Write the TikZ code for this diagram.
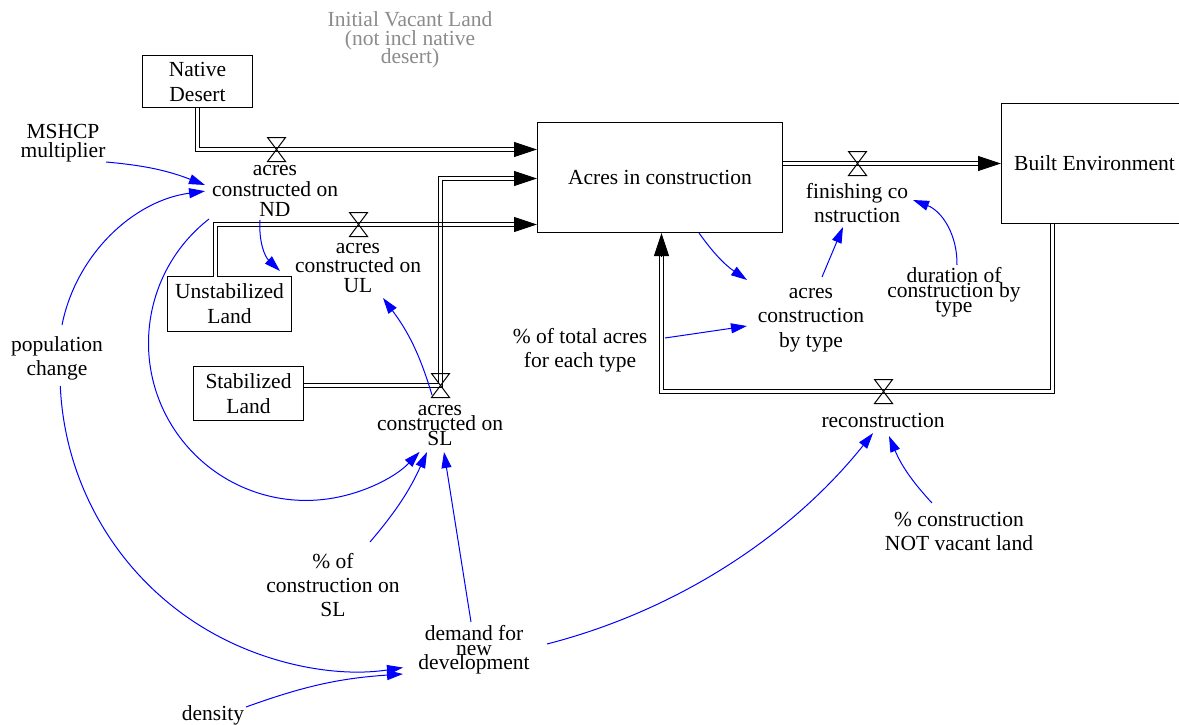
\documentclass[tikz,border=0pt]{standalone}
\usepackage{fontspec}
\setmainfont{Liberation Serif}
\usetikzlibrary{arrows.meta,calc}
\setlength{\lineskiplimit}{-100pt}
\definecolor{ghost}{RGB}{140,140,140}
\definecolor{linkblue}{RGB}{0,0,255}

\tikzset{
  stock/.style={draw, line width=1pt, align=center, inner sep=0pt,
    font=\fontsize{21.5}{25}\selectfont},
  lbl/.style={align=center, inner sep=1pt, font=\fontsize{21.5}{#1}\selectfont},
  lbl/.default=24,
  % a pipe: wide black stroke with a narrower white core on top
  pipe/.style={draw=white, line width=3pt,
    preaction={draw=black, line width=5pt}},
  pipeedge/.style={line width=1pt},
  pipetip/.style={line width=1pt, -{Triangle[length=23pt,width=15pt]}},
  link/.style={draw=linkblue, line width=1pt, -{Triangle[length=16pt,width=10pt]}},
  valve/.pic={\draw[line width=1pt] (-9,12) -- (9,12) -- (-9,-12) -- (9,-12) -- cycle;},
}

\begin{document}
\begin{tikzpicture}[x=1pt,y=1pt]
\fill[white] (0,0) rectangle (1179,-725);
\useasboundingbox (0,0) rectangle (1179,-725);

% stocks
\node[stock, minimum width=110, minimum height=52] (nd) at (197.5,-81.5) {Native\\Desert};
\node[stock, minimum width=245, minimum height=110] (acres) at (660,-177.5) {Acres in construction};
\node[stock, minimum width=186, minimum height=120] (built) at (1094.5,-163.5) {Built Environment};
\node[stock, minimum width=124, minimum height=55] (ul) at (229.5,-304) {Unstabilized\\Land};
\node[stock, minimum width=110, minimum height=54] (sl) at (248.5,-393.5) {Stabilized\\Land};

% variables and rates
\node[lbl=18.5, text=ghost] (title) at (410,-40) {Initial Vacant Land\\(not incl native\\desert)};
\node[lbl=19.5] (msh) at (63,-143) {MSHCP\\multiplier};
\node[lbl=20.5] (ndrate) at (275,-191) {acres\\constructed on\\ND};
\node[lbl=19.5] (ulrate) at (358,-268) {acres\\constructed on\\UL};
\node[lbl=15] (slrate) at (440,-426) {acres\\constructed on\\SL};
\node[lbl=24] (pop) at (57,-358) {population\\change};
\node[lbl=24] (pctsl) at (333,-585) {\% of\\construction on\\SL};
\node[lbl=14.5] (demand) at (474,-650) {demand for\\new\\development};
\node[lbl] (density) at (213,-715) {density};
\node[lbl=24] (finish) at (857,-203) {finishing co\\nstruction};
\node[lbl=24.5] (bytype) at (811,-320) {acres\\construction\\by type};
\node[lbl=24] (pcttot) at (580,-350) {\% of total acres\\for each type};
\node[lbl=15] (duration) at (954,-292) {duration of\\construction by\\type};
\node[lbl] (recon) at (883,-420) {reconstruction};
\node[lbl=24] (notvac) at (959,-531) {\% construction\\NOT vacant land};

% valve positions and pipe ends
\coordinate (ndv) at (276.5,-149.5);
\coordinate (ulv) at (358.5,-224.5);
\coordinate (slv) at (440.5,-385.5);
\coordinate (finv) at (857.5,-163.5);
\coordinate (recv) at (883.5,-391.5);
\coordinate (ndend) at (514,-149.5);
\coordinate (ulsrc) at (215.5,-276.5);
\coordinate (ulend) at (514,-224.5);
\coordinate (slsrc) at (sl.east |- slv);
\coordinate (slend) at (514,-178.5);
\coordinate (finend) at (978,-163.5);
\coordinate (recsrc) at (1052.5,-223.5);
\coordinate (recend) at (661.5,-256);
\coordinate (cross) at (slv |- ulend);

% flow pipes
\draw[pipe] (nd.south) |- (ndend);
\draw[pipetip] (ndend) -- (acres.west |- ndend);
\draw[pipe] (slsrc) -| (slv |- slend) -- (slend);
\draw[pipetip] (slend) -- (acres.west |- slend);
\draw[pipe] (ulsrc) |- (ulend);
\draw[pipetip] (ulend) -- (acres.west |- ulend);
% the rising SL pipe stays visible where the UL pipe crosses it
\draw[pipeedge] ($(cross)+(-2,2)$) -- ++(0,-4);
\draw[pipeedge] ($(cross)+(2,2)$) -- ++(0,-4);
\draw[pipe] (acres.east |- finend) -- (finend);
\draw[pipetip] (finend) -- (built.west |- finend);
\draw[pipe] (recsrc) |- (recv) -| (recend);
\draw[pipetip] (recend) -- (acres.south -| recend);

% valves
\foreach \v in {ndv,ulv,slv,finv,recv} \pic at (\v) {valve};

% information links
\draw[link] ($(msh)+(43,-19)$) to[bend left=8] ($(ndrate)+(-70,6)$);
\draw[link] ($(pop)+(5,33)$) arc[start angle=168.7, end angle=97.5, radius=168.3];
\draw[link] ($(ndrate)+(-15,-29)$) to[bend right=25] ($(ulrate)+(-78,-3)$);
\draw[link] ($(ndrate)+(-66,-28)$) arc[start angle=128, end angle=316.3, radius=157.4];
\draw[link] ($(slrate)+(-8,31)$) to[bend right=10] ($(ulrate)+(25,-30)$);
\draw[link] ($(pctsl)+(37,43)$) to[bend right=8] ($(slrate)+(-13,-26)$);
\draw[link] ($(demand)+(-3,28)$) -- ($(slrate)+(4,-26)$);
\draw[link] ($(pop)+(3.3,-28)$) arc[start angle=182.5, end angle=278.7, radius=298];
\draw[link] ($(density)+(33,8)$) to[bend left=8] ($(demand)+(-71,-24)$);
\draw[link] ($(demand)+(73,6)$) arc[start angle=284.4, end angle=321.4, radius=612];
\draw[link] ($(notvac)+(-27,28)$) to[bend left=10] ($(recon)+(6,-16)$);
\draw[link] ($(acres)+(39,-55.5)$) to[bend right=10] ($(bytype)+(-64,40)$);
\draw[link] ($(pcttot)+(85,12)$) -- ($(bytype)+(-64,-6)$);
\draw[link] ($(bytype)+(11,43)$) -- ($(finish)+(-14,-24)$);
\draw[link] ($(duration)+(3,27)$) to[bend right=35] ($(finish)+(56,3)$);
\end{tikzpicture}
\end{document}
